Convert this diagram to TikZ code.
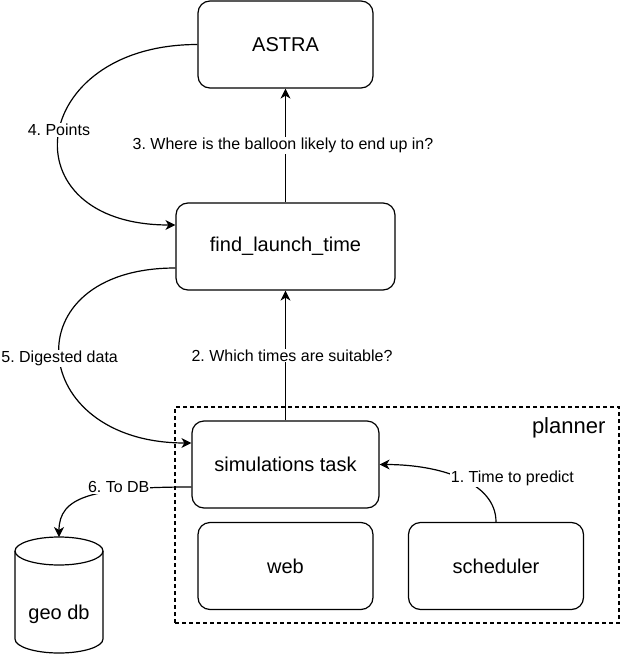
\documentclass[tikz,border=0pt]{standalone}
\usepackage{fontspec}
\setmainfont{Liberation Sans}
\frenchspacing
\usetikzlibrary{arrows.meta}

\begin{document}
\begin{tikzpicture}[x = 1pt, y = -1pt, line width = 1.2pt]
	\tikzstyle{boxStyle} = [draw, rounded corners = 12pt, minimum width = 175pt, minimum height = 87pt, inner sep = 0pt, font = \fontsize{20}{24}\selectfont]
	\tikzstyle{groupStyle} = [draw, dash pattern = on 4pt off 3pt, minimum width = 444pt, minimum height = 216pt, inner sep = 0pt]
	\tikzstyle{edgeLabelStyle} = [fill = white, inner sep = 1pt, font = \fontsize{16}{19}\selectfont]
	\tikzstyle{arrowStyle} = [-{Stealth[length = 10pt, width = 10pt, inset = 3pt]}]
	\useasboundingbox (0, 0) rectangle (624, 656);
	% planner group
	\node[groupStyle] (planner) at (397, 515) {};
	\node[anchor = east, inner sep = 0pt, font = \fontsize{22}{26}\selectfont] (plannerLabel) at (606, 428) {planner};
	% boxes
	\node[boxStyle] (astra) at (285.5, 44.5) {ASTRA};
	\node[boxStyle, minimum width = 219pt] (find) at (285.5, 246.5) {find\_launch\_time};
	\node[boxStyle, minimum width = 187pt] (sim) at (285.5, 464.5) {simulations task};
	\node[boxStyle] (web) at (285.5, 566) {web};
	\node[boxStyle] (sched) at (496, 566) {scheduler};
	% geo db cylinder
	\coordinate (geoTop) at (59, 537);
	\draw (15, 551) -- (15, 639) arc[start angle = 180, end angle = 360, x radius = 44pt, y radius = 14pt]
		-- (103, 551) arc[start angle = 0, end angle = 180, x radius = 44pt, y radius = 14pt] -- cycle;
	\draw (15, 551) arc[start angle = 180, end angle = 360, x radius = 44pt, y radius = 14pt];
	\node[inner sep = 0pt, font = \fontsize{20}{24}\selectfont] (geo) at (59, 614) {geo db};
	% connectors
	\draw[arrowStyle] (sched.north) .. controls +(0, -40) and +(60, 0) .. node[edgeLabelStyle, pos = 0.5, anchor = west, xshift = -11pt] {1. Time to predict} (sim.east);
	\draw[arrowStyle] (sim.north) -- node[edgeLabelStyle, xshift = 6.5pt] {2. Which times are suitable?} (find.south);
	\draw[arrowStyle] (find.north) -- node[edgeLabelStyle, xshift = -2.5pt] {3. Where is the balloon likely to end up in?} (astra.south);
	\draw[arrowStyle] (astra.west) .. controls +(-170, 0) and +(-170, 0) .. node[edgeLabelStyle, pos = 0.5, yshift = 5pt] {4. Points} ([yshift = 21.5pt]find.west);
	\draw[arrowStyle] ([yshift = -21.5pt]find.west) .. controls +(-165, 0) and +(-165, 0) .. node[edgeLabelStyle, pos = 0.5, yshift = -3pt] {5. Digested data} ([yshift = 21.5pt]sim.west);
	\draw[arrowStyle] ([yshift = -22.5pt]sim.west) .. controls +(-100, 0) and +(0, -40) .. node[edgeLabelStyle, pos = 0.3, yshift = 3pt] {6. To DB} (geoTop);
\end{tikzpicture}
\end{document}
